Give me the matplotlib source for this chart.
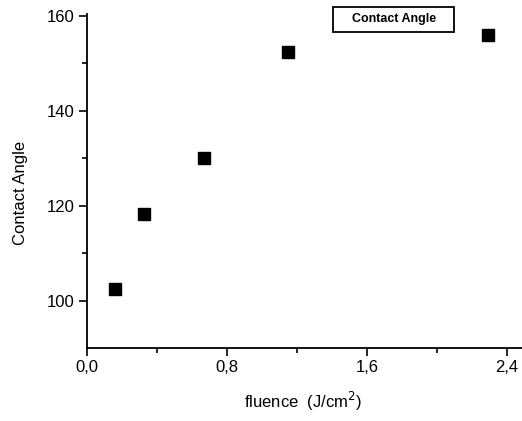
import numpy as np
import matplotlib
matplotlib.use('Agg')
import matplotlib.pyplot as plt
from matplotlib.patches import Rectangle

plt.rcParams['font.family'] = ['Liberation Sans', 'DejaVu Sans']

fluence = [0.16, 0.326, 0.67, 1.15, 2.29]
contact_angle = [102.5, 118.2, 130.0, 152.3, 156.0]
xticks = [0.0, 0.8, 1.6, 2.4]
xticklabels = ['0,0', '0,8', '1,6', '2,4']
yticks = [100, 120, 140, 160]

fig = plt.figure(figsize=(5.22, 4.21), dpi=100)
ax = fig.add_axes([87 / 522, 73 / 421, 1 - 87 / 522, (348 - 14) / 421])

ax.plot(fluence, contact_angle, 's', color='black', markersize=8.5, linestyle='none')

ax.set_xlim(0, 2.486)
ax.set_ylim(90, 160.4)
ax.set_xticks(xticks)
ax.set_xticklabels(xticklabels)
ax.set_xticks([0.4, 1.2, 2.0], minor=True)
ax.set_yticks(yticks)
ax.set_yticks([110, 130, 150], minor=True)

for s in ['top', 'right']:
    ax.spines[s].set_visible(False)
for s in ['left', 'bottom']:
    ax.spines[s].set_linewidth(1.3)

ax.tick_params(axis='both', which='major', direction='out', length=6, width=1.2, labelsize=12, pad=3)
ax.tick_params(axis='both', which='minor', direction='out', length=3.5, width=1.2)

ax.set_xlabel('fluence  (J/cm$^2$)', fontsize=12)
ax.xaxis.set_label_coords((303 - 87) / 435, (348 - 390) / 334)
ax.xaxis.label.set_va('top')
ax.set_ylabel('Contact Angle', fontsize=12)
ax.yaxis.set_label_coords(-0.136, 0.464)

# legend-like box with just the series name
ax.add_patch(Rectangle((0.566, 0.946), 0.278, 0.075, transform=ax.transAxes,
                       facecolor='white', edgecolor='black', linewidth=1.3, clip_on=False))
ax.text(0.705, 0.984, 'Contact Angle', transform=ax.transAxes, fontsize=9,
        fontweight='bold', ha='center', va='center')

fig.savefig('out.png', dpi=100)
